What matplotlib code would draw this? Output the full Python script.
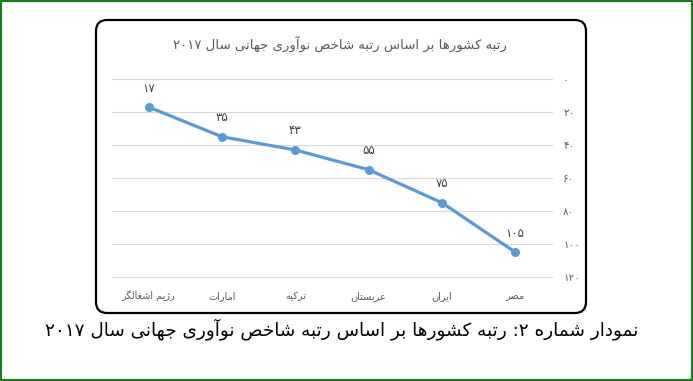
import re
import matplotlib
matplotlib.use('Agg')
import matplotlib.pyplot as plt
from matplotlib.patches import FancyBboxPatch, Rectangle

# Data (left to right as in the chart)
countries = ["رژیم اشغالگر", "امارات", "ترکیه", "عربستان", "ایران", "مصر"]
ranks = [17, 35, 43, 55, 75, 105]
y_ticks = [0, 20, 40, 60, 80, 100, 120]
title = "رتبه کشورها بر اساس رتبه شاخص نوآوری جهانی سال ۲۰۱۷"
caption = "نمودار شماره ۲: رتبه کشورها بر اساس رتبه شاخص نوآوری جهانی سال ۲۰۱۷"

# matplotlib does no Arabic shaping, so pick presentation forms by hand
# (isolated, final, initial, medial) - two entries = does not join the next letter
FORMS = {
    'ا': ('\uFE8D', '\uFE8E'), 'آ': ('\uFE81', '\uFE82'),
    'ب': ('\uFE8F', '\uFE90', '\uFE91', '\uFE92'),
    'ت': ('\uFE95', '\uFE96', '\uFE97', '\uFE98'),
    'ث': ('\uFE99', '\uFE9A', '\uFE9B', '\uFE9C'),
    'ج': ('\uFE9D', '\uFE9E', '\uFE9F', '\uFEA0'),
    'ح': ('\uFEA1', '\uFEA2', '\uFEA3', '\uFEA4'),
    'خ': ('\uFEA5', '\uFEA6', '\uFEA7', '\uFEA8'),
    'د': ('\uFEA9', '\uFEAA'), 'ذ': ('\uFEAB', '\uFEAC'),
    'ر': ('\uFEAD', '\uFEAE'), 'ز': ('\uFEAF', '\uFEB0'),
    'ژ': ('\uFB8A', '\uFB8B'),
    'س': ('\uFEB1', '\uFEB2', '\uFEB3', '\uFEB4'),
    'ش': ('\uFEB5', '\uFEB6', '\uFEB7', '\uFEB8'),
    'ص': ('\uFEB9', '\uFEBA', '\uFEBB', '\uFEBC'),
    'ض': ('\uFEBD', '\uFEBE', '\uFEBF', '\uFEC0'),
    'ط': ('\uFEC1', '\uFEC2', '\uFEC3', '\uFEC4'),
    'ظ': ('\uFEC5', '\uFEC6', '\uFEC7', '\uFEC8'),
    'ع': ('\uFEC9', '\uFECA', '\uFECB', '\uFECC'),
    'غ': ('\uFECD', '\uFECE', '\uFECF', '\uFED0'),
    'ف': ('\uFED1', '\uFED2', '\uFED3', '\uFED4'),
    'ق': ('\uFED5', '\uFED6', '\uFED7', '\uFED8'),
    'ک': ('\uFB8E', '\uFB8F', '\uFB90', '\uFB91'),
    'گ': ('\uFB92', '\uFB93', '\uFB94', '\uFB95'),
    'ل': ('\uFEDD', '\uFEDE', '\uFEDF', '\uFEE0'),
    'م': ('\uFEE1', '\uFEE2', '\uFEE3', '\uFEE4'),
    'ن': ('\uFEE5', '\uFEE6', '\uFEE7', '\uFEE8'),
    'و': ('\uFEED', '\uFEEE'),
    'ه': ('\uFEE9', '\uFEEA', '\uFEEB', '\uFEEC'),
    'ی': ('\uFBFC', '\uFBFD', '\uFBFE', '\uFBFF'),
    'پ': ('\uFB56', '\uFB57', '\uFB58', '\uFB59'),
    'چ': ('\uFB7A', '\uFB7B', '\uFB7C', '\uFB7D'),
}
FA_DIGITS = '۰۱۲۳۴۵۶۷۸۹'


def to_fa(n):
    return ''.join(FA_DIGITS[int(d)] for d in str(n))


def shape(s):
    out = []
    for i, c in enumerate(s):
        if c not in FORMS:
            out.append(c)
            continue
        prev = s[i - 1] if i > 0 else ''
        nxt = s[i + 1] if i + 1 < len(s) else ''
        p = prev in FORMS and len(FORMS[prev]) == 4
        n = len(FORMS[c]) == 4 and nxt in FORMS
        f = FORMS[c]
        out.append(f[3] if p and n else f[1] if p else f[2] if n else f[0])
    return ''.join(out)


def rtl(s):
    # reverse for right-to-left, keep digit runs in reading order
    runs = re.findall(r'[0-9\u06F0-\u06F9]+|[^0-9\u06F0-\u06F9]+', shape(s))
    return ''.join(r if r[0] in '0123456789' + FA_DIGITS else r[::-1]
                   for r in reversed(runs))


plt.rcParams['font.family'] = ['DejaVu Sans']
GRAY = '#595959'
BLUE = '#5B9BD5'

fig = plt.figure(figsize=(6.93, 3.81), dpi=100)

# outer green frame
fig.patches.append(Rectangle((0, 0), 1, 1, transform=fig.transFigure,
                             fill=False, edgecolor='#1E7B1E', linewidth=3))
# rounded chart box (inches)
fig.patches.append(FancyBboxPatch((0.96, 0.68), 4.90, 2.93,
                                  boxstyle='round,pad=0,rounding_size=0.11',
                                  transform=fig.dpi_scale_trans, fill=False,
                                  edgecolor='black', linewidth=1.6))

ax = fig.add_axes([112 / 693, 104 / 381, 440 / 693, 198 / 381])
x = range(len(countries))
ax.plot(x, ranks, color=BLUE, linewidth=2.3, marker='o', markersize=5.5,
        zorder=3)
for xi, r in zip(x, ranks):
    ax.annotate(to_fa(r), (xi, r), xytext=(0, 9), textcoords='offset points',
                ha='center', va='bottom', fontsize=8.5, color='#404040')

ax.set_xlim(-0.5, len(countries) - 0.5)
ax.set_ylim(120, 0)
ax.set_yticks(y_ticks)
ax.set_yticklabels([to_fa(t) for t in y_ticks], fontsize=7.5, color=GRAY)
ax.yaxis.tick_right()
ax.set_xticks(list(x))
ax.set_xticklabels([rtl(c) for c in countries], fontsize=7, color=GRAY)
ax.tick_params(axis='both', length=0)
ax.tick_params(axis='y', pad=8)
ax.tick_params(axis='x', pad=10)
ax.grid(axis='y', color='#D9D9D9', linewidth=0.8)
for gl in ax.get_ygridlines():
    gl.set_clip_on(False)
ax.set_axisbelow(True)
for sp in ax.spines.values():
    sp.set_visible(False)

fig.text(340 / 693, 1 - 44 / 381, rtl(title), ha='center', va='center',
         fontsize=9.5, color=GRAY)
fig.text(342 / 693, 1 - 329 / 381, rtl(caption), ha='center', va='center',
         fontsize=13.2, color='black')

fig.savefig('out.png', dpi=100)
